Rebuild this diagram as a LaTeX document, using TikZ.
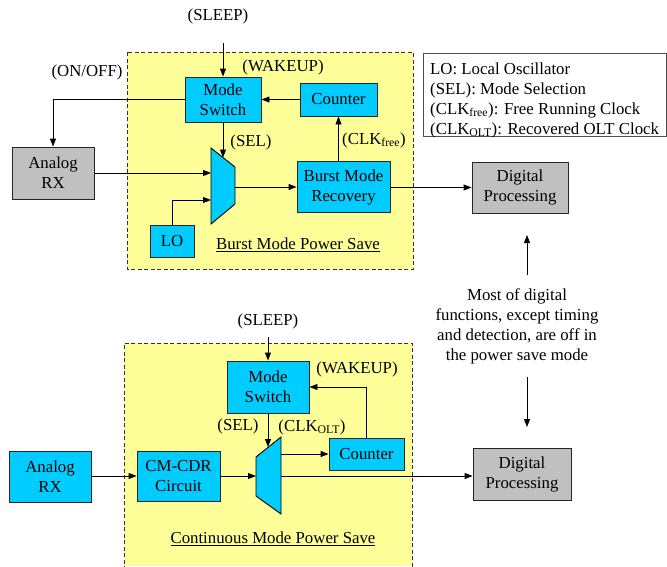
\documentclass[tikz,border=0pt]{standalone}
\usepackage{fontspec}
\setmainfont{Liberation Serif}
\usetikzlibrary{arrows.meta}
\definecolor{boxcyan}{HTML}{00CCFF}
\definecolor{boxgray}{HTML}{C0C0C0}
\definecolor{zoneyellow}{HTML}{FFFF99}
\tikzset{
  every node/.style={font=\fontsize{16.8}{20}\selectfont},
  blk/.style={draw=black!85, line width=0.9pt, fill=boxcyan, align=center, inner sep=0pt},
  gblk/.style={blk, fill=boxgray},
  lbl/.style={inner sep=0pt, align=center},
  zone/.style={draw=black!80, line width=0.9pt, dash pattern=on 4pt off 2.5pt, fill=zoneyellow},
  conn/.style={line width=0.9pt, -{Triangle[length=8pt,width=6pt]}},
  plain/.style={line width=0.9pt},
}
\begin{document}
\begin{tikzpicture}[x=1pt,y=-1pt]
\useasboundingbox (0,0) rectangle (667,566);
% zones
\draw[zone] (127,52) rectangle (413,269);
\fill[zoneyellow] (124,343) rectangle (412,566);
\draw[zone, fill=none] (124,570) -- (124,343) -- (412,343) -- (412,570);

% ===== top: burst mode =====
\node[lbl] (sleep1) at (218,16) {(SLEEP)};
\coordinate (sleep1end) at (223,43);
\node[blk, minimum width=76pt, minimum height=45pt] (ms1) at (223,99.5) {Mode\\Switch};
\node[blk, minimum width=77pt, minimum height=33pt] (cnt1) at (338.5,99.5) {Counter};
\node[gblk, minimum width=82pt, minimum height=52pt] (arx1) at (53,173) {Analog\\RX};
\node[blk, minimum width=44pt, minimum height=32pt] (lo) at (172,241) {LO};
\node[blk, minimum width=93pt, minimum height=51pt] (bmr) at (343.5,187) {Burst Mode\\Recovery};
\node[gblk, minimum width=96pt, minimum height=51pt] (dp1) at (520,187.5) {Digital\\Processing};
% mux 1
\draw[line width=0.9pt, fill=boxcyan] (211,148) -- (235,167) -- (235,204) -- (211,224) -- cycle;
\coordinate (mux1sel) at (223,157.5);
\coordinate (mux1in1) at (211,173);
\coordinate (mux1in2) at (211,200);
\coordinate (mux1out) at (235,187);

\node[lbl] (wakeup1) at (283,67) {(WAKEUP)};
\node[lbl] (onoff) at (87,72) {(ON/OFF)};
\node[lbl] (sel1) at (251,142) {(SEL)};
\node[lbl] (clkfree) at (374,140) {(CLK\textsubscript{free})};
\node[lbl] (burstlbl) at (298,245) {\underline{Burst Mode Power Save}};

\draw[conn] (sleep1end) -- (ms1.north);
\draw[conn] (cnt1.west) -- (ms1.east);
\draw[conn] (ms1.west) -| (arx1.north);
\draw[conn] (ms1.south) -- (mux1sel);
\draw[conn] (arx1.east |- mux1in1) -- (mux1in1);
\draw[conn] (lo.north) |- (mux1in2);
\draw[conn] (mux1out) -- (mux1out -| bmr.west);
\draw[conn] (bmr.north -| cnt1.south) -- (cnt1.south);
\draw[conn] (bmr.east |- dp1.west) -- (dp1.west);

% legend
\node[draw=black!70, line width=0.9pt, minimum width=243pt, minimum height=83pt, inner sep=0pt] (legend) at (544.5,94.5) {};
\node[lbl, anchor=north west, align=left] (legendtext) at (430,62.5)
  {LO: Local Oscillator\\(SEL): Mode Selection\\(CLK\textsubscript{free}): Free Running Clock\\(CLK\textsubscript{OLT}): Recovered OLT Clock};

% note
\node[lbl] (note) at (517,326.5) {Most of digital\\functions, except timing\\and detection, are off in\\the power save mode};
\coordinate (up1a) at (527,275);
\coordinate (up1b) at (527,235);
\coordinate (dn1a) at (527,377);
\coordinate (dn1b) at (527,427);
\draw[conn] (up1a) -- (up1b);
\draw[conn] (dn1a) -- (dn1b);

% ===== bottom: continuous mode =====
\node[lbl] (sleep2) at (268,321) {(SLEEP)};
\coordinate (sleep2end) at (268,337);
\node[blk, minimum width=82pt, minimum height=52pt] (ms2) at (268,387) {Mode\\Switch};
\node[blk, minimum width=75pt, minimum height=32pt] (cnt2) at (366.5,454) {Counter};
\node[blk, minimum width=82pt, minimum height=51pt] (arx2) at (50,476.5) {Analog\\RX};
\node[blk, minimum width=83pt, minimum height=50pt] (cdr) at (178.5,476) {CM-CDR\\Circuit};
\node[gblk, minimum width=98pt, minimum height=52pt] (dp2) at (522,474) {Digital\\Processing};
% mux 2
\draw[line width=0.9pt, fill=boxcyan] (256,457) -- (281,437) -- (281,514) -- (256,496) -- cycle;
\coordinate (mux2sel) at (268,447);
\coordinate (mux2in) at (256,476);
\coordinate (mux2out1) at (281,454);
\coordinate (mux2out2) at (281,476);

\node[lbl] (wakeup2) at (357,369) {(WAKEUP)};
\node[lbl] (sel2) at (238,426) {(SEL)};
\node[lbl] (clkolt) at (312,427) {(CLK\textsubscript{OLT})};
\node[lbl] (contlbl) at (273,539) {\underline{Continuous Mode Power Save}};

\draw[conn] (sleep2end) -- (ms2.north);
\draw[conn] (ms2.south) -- (mux2sel);
\draw[conn] (cnt2.north) |- (ms2.east);
\draw[conn] (arx2.east |- mux2in) -- (mux2in -| cdr.west);
\draw[conn] (cdr.east |- mux2in) -- (mux2in);
\draw[conn] (mux2out1) -- (mux2out1 -| cnt2.west);
\draw[conn] (mux2out2) -- (mux2out2 -| dp2.west);
\end{tikzpicture}
\end{document}
